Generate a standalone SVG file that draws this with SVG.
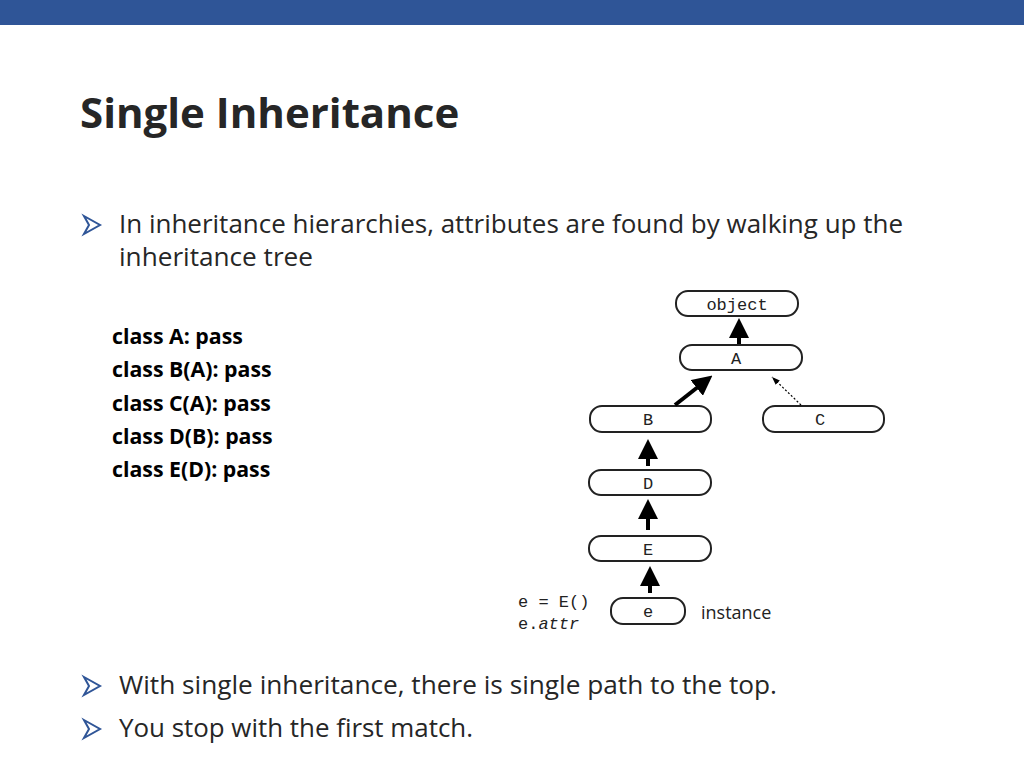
<svg xmlns="http://www.w3.org/2000/svg" width="1024" height="768" viewBox="0 0 1024 768">
<style>
.t{font-family:"Open Sans","Liberation Sans",sans-serif;fill:#262626}
.code{font-family:"Open Sans","Liberation Sans",sans-serif;font-weight:bold;font-size:21.3px;fill:#000}
.box{fill:#fff;stroke:#222;stroke-width:2}
.m{font-family:"Liberation Mono",monospace;font-size:17px;fill:#222}
.a{stroke:#000;stroke-width:4;fill:none}
</style>
<defs>
<marker id="ah" markerWidth="5" markerHeight="5" refX="2" refY="2.5" orient="auto" markerUnits="strokeWidth"><path d="M0,0 L5,2.5 L0,5 z" fill="#000"/></marker>
<marker id="ad" markerWidth="8" markerHeight="8" refX="8" refY="4" orient="auto" markerUnits="userSpaceOnUse"><path d="M0,1 L8,4 L0,7 z" fill="#000"/></marker>
</defs>
<rect x="0" y="0" width="1024" height="25" fill="#2f5597"/>
<text x="80" y="128" class="t" font-size="42" font-weight="bold">Single Inheritance</text>
<path d="M84,216 L100,225 L84,234 L89,225 z" fill="none" stroke="#2f5597" stroke-width="2"/>
<text x="119" y="233" class="t" font-size="25" textLength="784" lengthAdjust="spacingAndGlyphs">In inheritance hierarchies, attributes are found by walking up the</text>
<text x="119" y="266" class="t" font-size="25" textLength="194" lengthAdjust="spacingAndGlyphs">inheritance tree</text>
<text x="112" y="344" class="code">class A: pass</text>
<text x="112" y="377" class="code">class B(A): pass</text>
<text x="112" y="411" class="code">class C(A): pass</text>
<text x="112" y="444" class="code">class D(B): pass</text>
<text x="112" y="477" class="code">class E(D): pass</text>
<g id="object"><rect class="box" x="676" y="291" width="122" height="25" rx="12"/><text class="m" x="737" y="310" text-anchor="middle">object</text></g>
<g id="A"><rect class="box" x="680" y="345" width="122" height="25" rx="12"/><text class="m" x="736" y="364" text-anchor="middle">A</text></g>
<g id="B"><rect class="box" x="590" y="406" width="121" height="26" rx="12"/><text class="m" x="648" y="425" text-anchor="middle">B</text></g>
<g id="C"><rect class="box" x="763" y="406" width="121" height="26" rx="12"/><text class="m" x="820" y="425" text-anchor="middle">C</text></g>
<g id="D"><rect class="box" x="589" y="470" width="122" height="25" rx="12"/><text class="m" x="648" y="489" text-anchor="middle">D</text></g>
<g id="E"><rect class="box" x="589" y="536" width="122" height="25" rx="12"/><text class="m" x="648" y="555" text-anchor="middle">E</text></g>
<g id="e"><rect class="box" x="611" y="598" width="74" height="26" rx="12"/><text class="m" x="648" y="617" text-anchor="middle">e</text></g>
<g id="connectors">
<line class="a" x1="739" y1="344" x2="739" y2="330" marker-end="url(#ah)"/>
<line class="a" x1="675" y1="405" x2="703" y2="383" marker-end="url(#ah)"/>
<line x1="801" y1="405" x2="772" y2="377" stroke="#000" stroke-width="1.2" stroke-dasharray="2,2" marker-end="url(#ad)"/>
<line class="a" x1="648" y1="466" x2="648" y2="451" marker-end="url(#ah)"/>
<line class="a" x1="648" y1="530" x2="648" y2="511" marker-end="url(#ah)"/>
<line class="a" x1="650" y1="593" x2="650" y2="578" marker-end="url(#ah)"/>
</g>
<text class="m" x="518" y="607">e = E()</text>
<text class="m" x="518" y="629">e.<tspan font-style="italic">attr</tspan></text>
<text x="701" y="619" font-family="Open Sans,Liberation Sans,sans-serif" font-size="18" fill="#222">instance</text>
<path d="M84,677 L100,686 L84,695 L89,686 z" fill="none" stroke="#2f5597" stroke-width="2"/>
<text x="119" y="694" class="t" font-size="25" textLength="658" lengthAdjust="spacingAndGlyphs">With single inheritance, there is single path to the top.</text>
<path d="M84,720 L100,729 L84,738 L89,729 z" fill="none" stroke="#2f5597" stroke-width="2"/>
<text x="119" y="737" class="t" font-size="25" textLength="354" lengthAdjust="spacingAndGlyphs">You stop with the first match.</text>
</svg>
